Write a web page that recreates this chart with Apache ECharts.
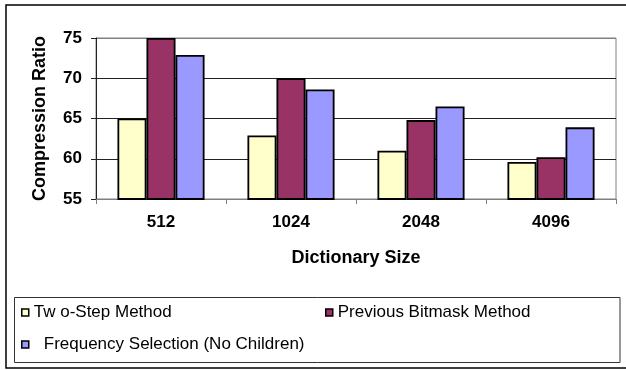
<!DOCTYPE html>
<html>
<head>
<meta charset="utf-8">
<script src="https://cdn.jsdelivr.net/npm/echarts@6/dist/echarts.min.js"></script>
<style>
  html, body { margin: 0; padding: 0; background: #fff; }
  #chart { width: 626px; height: 370px; }
</style>
</head>
<body>
<div id="chart"></div>
<script>
// Dictionary sizes on the x axis
const categories = ['512', '1024', '2048', '4096'];

// Compression ratio per method
const twoStep = [65, 62.9, 61, 59.6];
const previousBitmask = [75, 70, 64.8, 60.2];
const frequencySelection = [72.9, 68.6, 66.5, 63.9];

const seriesNames = ['Tw o-Step Method', 'Previous Bitmask Method', 'Frequency Selection (No Children)'];
const seriesColors = ['#FFFFCC', '#993366', '#9999FF'];

// Value axis range
const yMin = 55;
const yMax = 75;
const yStep = 5;

const FONT = 'Arial, "Liberation Sans", sans-serif';

const chart = echarts.init(document.getElementById('chart'), null, { renderer: 'canvas' });

function barSeries(name, data, color) {
  return {
    name: name,
    type: 'bar',
    data: data,
    barGap: '0%',
    barCategoryGap: '33%',
    itemStyle: { color: color, borderColor: '#000', borderWidth: 1.8 },
    emphasis: { disabled: true }
  };
}

// One legend block per entry so each can sit at its own spot in the key box
function legendAt(name, left, top, padLeft) {
  return {
    data: [{ name: name, icon: 'rect' }],
    left: left,
    top: top,
    orient: 'horizontal',
    itemWidth: 7,
    itemHeight: 7,
    padding: 0,
    selectedMode: false,
    itemStyle: { borderColor: '#000', borderWidth: 1.5 },
    textStyle: {
      fontFamily: FONT,
      fontSize: 17,
      color: '#000',
      padding: [0, 0, 0, padLeft]
    }
  };
}

chart.setOption({
  animation: false,
  backgroundColor: '#fff',
  graphic: [
    {
      type: 'rect',
      shape: { x: 6, y: 5, width: 640, height: 363 },
      style: { fill: 'none', stroke: '#000', lineWidth: 1.5 },
      silent: true
    },
    {
      type: 'rect',
      shape: { x: 14.5, y: 297.5, width: 605.5, height: 65 },
      style: { fill: 'none', stroke: '#333', lineWidth: 1 },
      silent: true
    }
  ],
  grid: {
    left: 96,
    right: 10,
    top: 38,
    bottom: 171,
    show: true,
    borderColor: '#808080',
    borderWidth: 1,
    backgroundColor: 'transparent'
  },
  legend: [
    legendAt(seriesNames[0], 21, 304, 0),
    legendAt(seriesNames[1], 325, 304, 0),
    legendAt(seriesNames[2], 21, 336, 10)
  ],
  xAxis: {
    type: 'category',
    data: categories,
    name: 'Dictionary Size',
    nameLocation: 'middle',
    nameGap: 50,
    nameTextStyle: { fontFamily: FONT, fontSize: 18, fontWeight: 'bold', color: '#000' },
    axisLine: { lineStyle: { color: '#808080', width: 1 } },
    axisTick: { show: true, length: 5, alignWithLabel: false, lineStyle: { color: '#808080' } },
    axisLabel: { fontFamily: FONT, fontSize: 17, fontWeight: 'bold', color: '#000', margin: 15 },
    splitLine: { show: false }
  },
  yAxis: {
    type: 'value',
    min: yMin,
    max: yMax,
    interval: yStep,
    name: 'Compression Ratio',
    nameLocation: 'middle',
    nameGap: 47,
    nameTextStyle: { fontFamily: FONT, fontSize: 18, fontWeight: 'bold', color: '#000' },
    axisLine: { show: true, lineStyle: { color: '#222', width: 1 } },
    axisTick: { show: true, length: 5, lineStyle: { color: '#222' } },
    axisLabel: { fontFamily: FONT, fontSize: 17, fontWeight: 'bold', color: '#000', margin: 14 },
    splitLine: { show: true, lineStyle: { color: ['#808080', '#222', '#222', '#222', '#808080'], width: 1 } }
  },
  series: [
    barSeries(seriesNames[0], twoStep, seriesColors[0]),
    barSeries(seriesNames[1], previousBitmask, seriesColors[1]),
    barSeries(seriesNames[2], frequencySelection, seriesColors[2])
  ]
});
</script>
</body>
</html>
